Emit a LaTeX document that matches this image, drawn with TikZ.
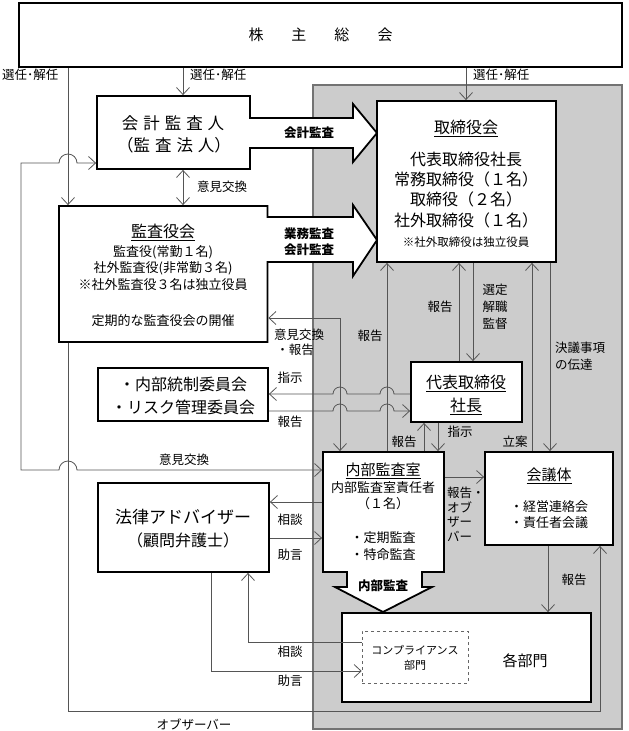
\documentclass[tikz,border=0pt]{standalone}
\usepackage{fontspec}
\newfontfamily\jp{Noto Sans CJK JP}
\usetikzlibrary{arrows.meta}
\definecolor{regiongray}{HTML}{CCCCCC}
\definecolor{linegray}{HTML}{555555}
\newcommand{\jfs}[1]{\fontsize{#1}{#1}\selectfont}
\begin{document}
\begin{tikzpicture}[x=1pt,y=-1pt,
  ln/.style={draw=linegray, line width=0.8pt},
  arr/.style={ln, -{Straight Barb[length=7pt,width=13pt]}},
  darr/.style={ln, {Straight Barb[length=7pt,width=13pt]}-{Straight Barb[length=7pt,width=13pt]}},
  boxst/.style={draw=black, line width=1.8pt, fill=white, line join=miter},
  box/.style={boxst, inner sep=0pt, outer sep=0.9pt},
  frame/.style={inner sep=0pt, outer sep=0.9pt},
  lab/.style={font=\jp\jfs{12.5}, inner sep=0pt},
  sm/.style={font=\jp\jfs{13}, inner sep=0pt},
  big/.style={font=\jp\jfs{16}, inner sep=0pt},
  bld/.style={font=\jp\bfseries\jfs{12.5}, inner sep=0pt},
  tiny/.style={font=\jp\jfs{11}, inner sep=0pt}
]
\useasboundingbox (0,0) rectangle (629,731);
% gray region
\draw[fill=regiongray, draw=black!55, line width=1.2pt] (313,85) rectangle (622,729);

% coordinates for columns / rows
\coordinate (X21) at (21,0);
\coordinate (X68) at (68,0);
\coordinate (X183) at (183,0);
\coordinate (X211) at (211,0);
\coordinate (X248) at (248,0);
\coordinate (X340) at (340,0);
\coordinate (X387) at (387,0);
\coordinate (X424) at (424,0);
\coordinate (X438) at (438,0);
\coordinate (X459) at (459,0);
\coordinate (X466) at (466,0);
\coordinate (X473) at (473,0);
\coordinate (X532) at (532,0);
\coordinate (X548) at (548,0);
\coordinate (X550) at (550,0);
\coordinate (X600) at (600,0);
\coordinate (Y163) at (0,163);
\coordinate (Y318) at (0,318);
\coordinate (Y394) at (0,394);
\coordinate (Y411) at (0,411);
\coordinate (Y470) at (0,470);
\coordinate (Y477) at (0,477);
\coordinate (Y502) at (0,502);
\coordinate (Y538) at (0,538);
\coordinate (Y642) at (0,642);
\coordinate (Y671) at (0,671);
\coordinate (Y711) at (0,711);

% boxes
\node[box, minimum width=603pt, minimum height=64pt, font=\jp\jfs{15}] (kabu) at (320.5,35) {株\hspace{28pt}主\hspace{28pt}総\hspace{28pt}会};

\draw[boxst] (97,96) -- (250,96) -- (250,118) -- (353,118) -- (353,104) -- (377,133) -- (353,162) -- (353,148) -- (250,148) -- (250,169) -- (97,169) -- cycle;
\node[frame, minimum width=153pt, minimum height=73pt] (kaikei) at (173.5,132.5) {};

\draw[boxst] (59,206) -- (267.5,206) -- (267.5,217) -- (353,217) -- (353,205) -- (377,240) -- (353,276) -- (353,262) -- (267.5,262) -- (267.5,342) -- (59,342) -- cycle;
\node[frame, minimum width=208.5pt, minimum height=136pt] (kansayaku) at (163.25,274) {};

\node[box, minimum width=179pt, minimum height=161pt] (torishimari) at (466.5,181.5) {};
\node[box, minimum width=111pt, minimum height=60pt] (daihyo) at (466.5,392) {};
\node[box, minimum width=170pt, minimum height=53pt] (iinkai) at (183,394.5) {};

\draw[boxst] (323,452) -- (444,452) -- (444,572) -- (422,572) -- (422,587) -- (432,587) -- (383,612) -- (335,587) -- (347,587) -- (347,572) -- (323,572) -- cycle;
\node[frame, minimum width=121pt, minimum height=120pt] (naibu) at (383.5,512) {};

\node[box, minimum width=128pt, minimum height=93pt] (kaigi) at (549,498.5) {};
\node[box, minimum width=171pt, minimum height=89pt] (houritsu) at (183.5,527.5) {};
\node[box, minimum width=249pt, minimum height=89pt] (kakubu) at (466.5,657.5) {};
\node[draw=black!60, dashed, line width=0.7pt, fill=white, inner sep=0pt, minimum width=106pt, minimum height=52pt] (comp) at (415,657) {};

% box texts
\node[big, font=\jp\jfs{16.5}] at (173,123) {会\hspace{5pt}計\hspace{5pt}監\hspace{5pt}査\hspace{5pt}人};
\node[big, font=\jp\jfs{16.5}] at (174,145) {（監\hspace{5pt}査\hspace{5pt}法\hspace{5pt}人）};
\node[bld] at (309,133) {会計監査};

\node[big] at (163,232) {\underline{監査役会}};
\node[sm] at (163,252) {監査役(常勤１名)};
\node[sm] at (163,268) {社外監査役(非常勤３名)};
\node[sm] at (163,285) {※社外監査役３名は独立役員};
\node[sm] at (163,321) {定期的な監査役会の開催};
\node[bld] at (309,234) {業務監査};
\node[bld] at (309,250) {会計監査};

\node[big] at (466,128) {\underline{取締役会}};
\node[big] at (466,159) {代表取締役社長};
\node[big] at (466,179) {常務取締役（１名）};
\node[big] at (466,199) {取締役（２名）};
\node[big] at (466,220) {社外取締役（１名）};
\node[tiny, font=\jp\jfs{11.5}] at (466,242) {※社外取締役は独立役員};

\node[big] at (466,383) {\underline{代表取締役}};
\node[big] at (466,406) {\underline{社長}};

\node[big] at (183,384) {・内部統制委員会};
\node[big] at (183,407) {・リスク管理委員会};

\node[big, font=\jp\jfs{15}] at (383,471) {\underline{内部監査室}};
\node[sm] at (383,488) {内部監査室責任者};
\node[sm] at (383,504) {（１名）};
\node[sm] at (383,538) {・定期監査};
\node[sm] at (383,555) {・特命監査};
\node[bld] at (383,586) {内部監査};

\node[big, font=\jp\jfs{15}] at (549,476) {\underline{会議体}};
\node[sm] at (549,507) {・経営連絡会};
\node[sm] at (549,523) {・責任者会議};

\node[big, font=\jp\jfs{17}] at (183,517) {法律アドバイザー};
\node[big] at (183,540) {（顧問弁護士）};

\node[big, font=\jp\jfs{15}] at (525,661) {各部門};
\node[tiny] at (415,650) {コンプライアンス};
\node[tiny] at (415,665) {部門};

% connectors
\draw[arr] (kabu.south -| X68) -- (kansayaku.north -| X68);
\draw[arr] (kabu.south -| X183) -- (kaikei.north -| X183);
\draw[arr] (kabu.south -| X466) -- (torishimari.north -| X466);
\draw[darr] (kaikei.south -| X183) -- (kansayaku.north -| X183);
\draw[darr] (naibu.west |- Y470) -- (77,470) arc[start angle=0,end angle=180,radius=9pt] -- (X21 |- Y470) -- (X21 |- Y163) -- (59,163) arc[start angle=180,end angle=0,radius=9pt] -- (kaikei.west |- Y163);
\draw[arr] (kansayaku.south -| X68) -- (X68 |- Y711) -- (X600 |- Y711) -- (kaigi.south -| X600);
\draw[darr] (kansayaku.east |- Y318) -- (X340 |- Y318) -- (naibu.north -| X340);
\draw[arr] (naibu.north -| X387) -- (torishimari.south -| X387);
\draw[arr] (daihyo.west |- Y394) -- (394,394) arc[start angle=0,end angle=180,radius=7pt] -- (347,394) arc[start angle=0,end angle=180,radius=7pt] -- (iinkai.east |- Y394);
\draw[arr] (iinkai.east |- Y411) -- (333,411) arc[start angle=180,end angle=0,radius=7pt] -- (380,411) arc[start angle=180,end angle=0,radius=7pt] -- (daihyo.west |- Y411);
\draw[arr] (daihyo.north -| X459) -- (torishimari.south -| X459);
\draw[arr] (torishimari.south -| X473) -- (daihyo.north -| X473);
\draw[arr] (kaigi.north -| X532) -- (torishimari.south -| X532);
\draw[arr] (torishimari.south -| X550) -- (kaigi.north -| X550);
\draw[arr] (naibu.north -| X424) -- (daihyo.south -| X424);
\draw[arr] (daihyo.south -| X438) -- (naibu.north -| X438);
\draw[arr] (naibu.east |- Y477) -- (kaigi.west |- Y477);
\draw[arr] (naibu.west |- Y502) -- (houritsu.east |- Y502);
\draw[arr] (houritsu.east |- Y538) -- (naibu.west |- Y538);
\draw[arr] (kaigi.south -| X548) -- (kakubu.north -| X548);
\draw[arr] (comp.west |- Y642) -- (X248 |- Y642) -- (houritsu.south -| X248);
\draw[arr] (houritsu.south -| X211) -- (X211 |- Y671) -- (comp.west |- Y671);

% labels
\node[lab, anchor=west] at (2,75) {選任･解任};
\node[lab, anchor=west] at (190,75) {選任･解任};
\node[lab, anchor=west] at (473,75) {選任･解任};
\node[lab] at (222,187) {意見交換};
\node[lab] at (184,460) {意見交換};
\node[lab] at (194,725) {オブザーバー};
\node[lab] at (299,335) {意見交換};
\node[lab] at (295,350) {・報告};
\node[lab] at (290,378) {指示};
\node[lab] at (290,422) {報告};
\node[lab] at (370,336) {報告};
\node[lab] at (440,307) {報告};
\node[lab] at (495,290) {選定};
\node[lab] at (495,307) {解職};
\node[lab] at (495,324) {監督};
\node[lab, anchor=west] at (555,348) {決議事項};
\node[lab, anchor=west] at (555,365) {の伝達};
\node[lab] at (404,442) {報告};
\node[lab] at (460,432) {指示};
\node[lab] at (515,442) {立案};
\node[lab, anchor=west] at (447,493) {報告・};
\node[lab, anchor=west] at (447,507) {オブ};
\node[lab, anchor=west] at (447,522) {ザー};
\node[lab, anchor=west] at (447,536) {バー};
\node[lab] at (290,520) {相談};
\node[lab] at (290,555) {助言};
\node[lab] at (290,652) {相談};
\node[lab] at (290,681) {助言};
\node[lab] at (574,580) {報告};
\end{tikzpicture}
\end{document}
